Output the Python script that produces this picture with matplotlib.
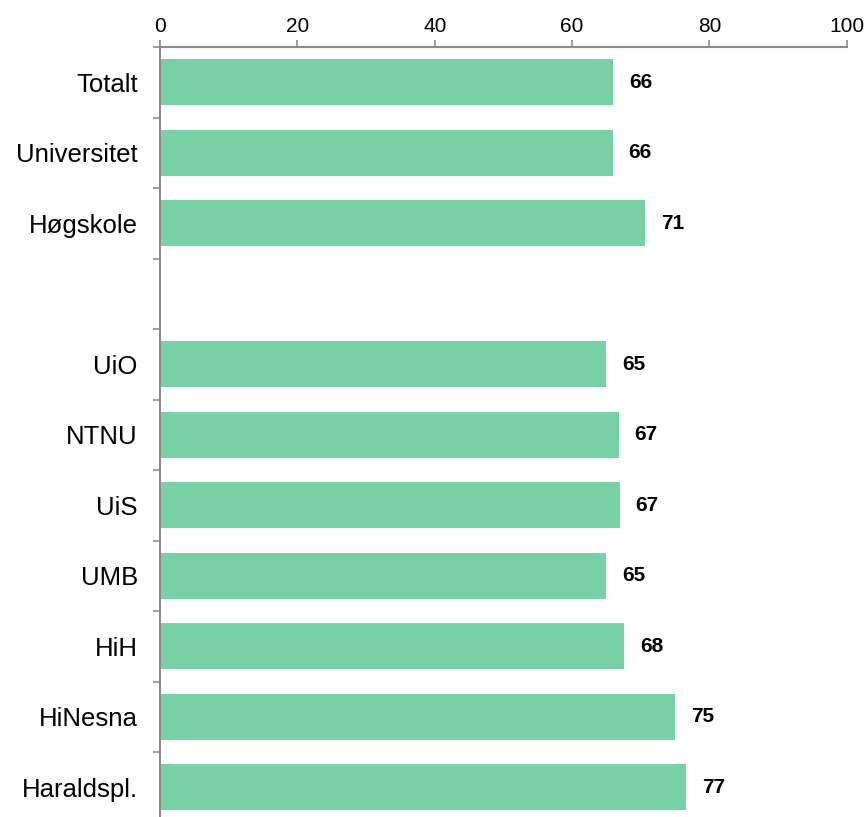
import matplotlib.pyplot as plt
import numpy as np

plt.rcParams['font.family'] = ['Liberation Sans', 'DejaVu Sans']

# data (top to bottom), a blank slot after "Høgskole"
kategorier = ["Totalt", "Universitet", "Høgskole", "", "UiO", "NTNU", "UiS", "UMB", "HiH", "HiNesna", "Haraldspl."]
verdier = [66.0, 65.9, 70.6, None, 65.0, 66.8, 66.9, 65.0, 67.6, 75.0, 76.6]
etiketter = ["66", "66", "71", "", "65", "67", "67", "65", "68", "75", "77"]

farge = "#77D1A4"
grå = "#8c8c8c"

def grafico() -> None:
    fig = plt.figure(figsize=(8.65, 8.17), dpi=100)
    ax = fig.add_axes([0.185, -0.0067, 0.794, 0.949])

    n = len(kategorier)
    pos = np.arange(n)
    for i, (v, t) in enumerate(zip(verdier, etiketter)):
        if v is None:
            continue
        ax.barh(pos[i], v, height=0.65, color=farge, edgecolor="none")
        ax.text(v + 2.3, pos[i], t, va="center", ha="left",
                fontsize=15, fontweight="bold", color="black")

    ax.set_xlim(0, 100)
    ax.set_ylim(n - 0.5, -0.5)

    ax.xaxis.tick_top()
    ax.set_xticks(np.arange(0, 101, 20))
    ax.tick_params(axis="x", direction="out", length=5, color=grå, width=1.2,
                   labelsize=15, pad=3)

    # major ticks at slot boundaries, labels on minor ticks
    ax.set_yticks(np.arange(-0.5, n, 1.0))
    ax.set_yticklabels([])
    ax.set_yticks(pos, minor=True)
    ax.set_yticklabels(kategorier, minor=True, fontsize=18.5)
    ax.tick_params(axis="y", which="major", direction="out", length=5, color=grå, width=1.2)
    ax.tick_params(axis="y", which="minor", length=0, pad=16)

    for s in ["right", "bottom"]:
        ax.spines[s].set_visible(False)
    for s in ["top", "left"]:
        ax.spines[s].set_color(grå)
        ax.spines[s].set_linewidth(1.5)

    fig.savefig("out.png", dpi=100)

grafico()
